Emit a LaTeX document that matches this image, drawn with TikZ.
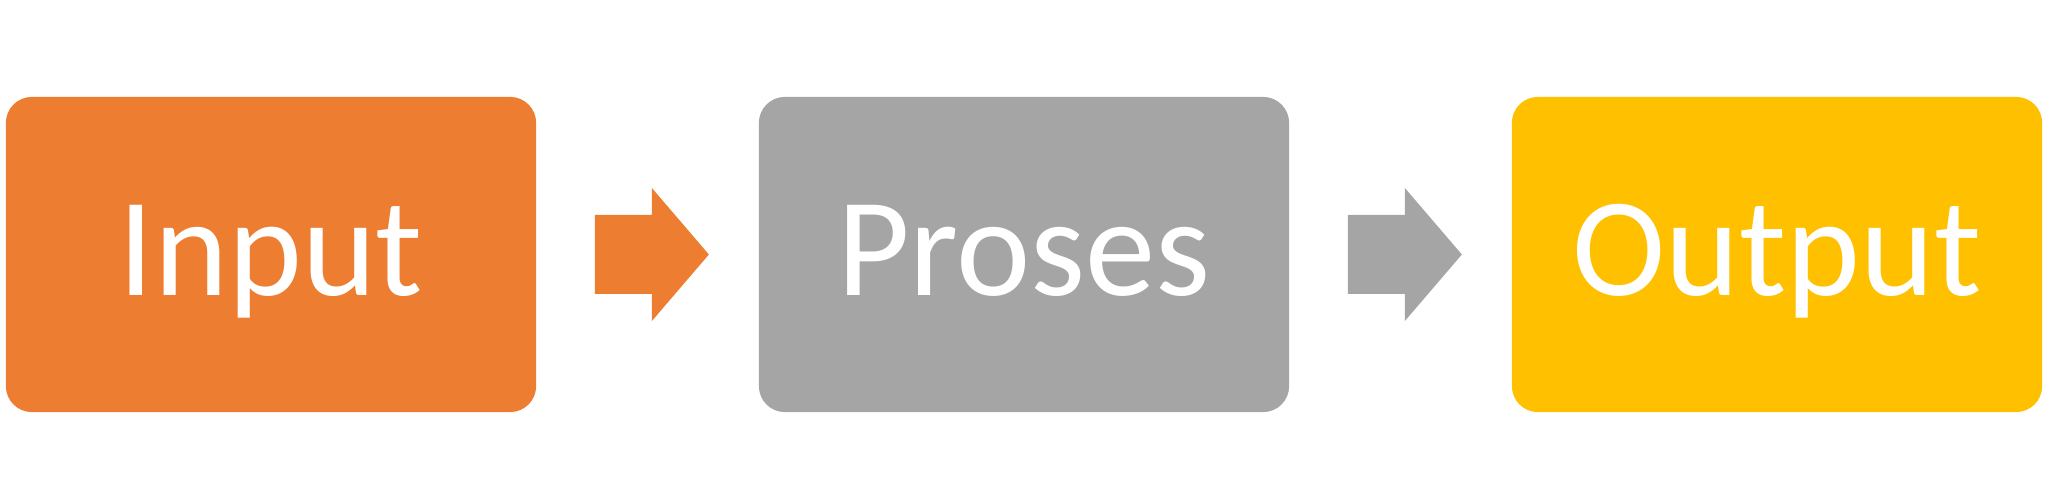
\documentclass[tikz,border=0pt]{standalone}
\usepackage{fontspec}
\setmainfont{Carlito}
\usetikzlibrary{calc}
\definecolor{inorange}{HTML}{ED7D31}
\definecolor{prgray}{HTML}{A5A5A5}
\definecolor{outgold}{HTML}{FFC000}
\newcommand{\boxfont}{\fontsize{40pt}{48pt}\selectfont}
\begin{document}
\begin{tikzpicture}[x=0.01cm, y=-0.01cm,
  blk/.style={rounded corners=7.4pt, minimum width=5.3cm, minimum height=3.15cm, inner sep=0pt, text=white, font=\boxfont, text height=0.9cm, text depth=0.09cm}]
\useasboundingbox (0,0) rectangle (2048,488);
% boxes
\node[blk,fill=inorange] (inp) at (271,254.5) {Input};
\node[blk,fill=prgray] (pros) at (1024,254.5) {Proses};
\node[blk,fill=outgold] (outp) at (1777,254.5) {Output};
% block arrows
\fill[inorange] ($(inp.east)+(58,-39.5)$) -- ($(inp.east)+(115,-39.5)$) -- ($(inp.east)+(115,-66.5)$) -- ($(inp.east)+(172,0)$) -- ($(inp.east)+(115,66.5)$) -- ($(inp.east)+(115,39.5)$) -- ($(inp.east)+(58,39.5)$) -- cycle;
\fill[prgray] ($(pros.east)+(58,-39.5)$) -- ($(pros.east)+(115,-39.5)$) -- ($(pros.east)+(115,-66.5)$) -- ($(pros.east)+(172,0)$) -- ($(pros.east)+(115,66.5)$) -- ($(pros.east)+(115,39.5)$) -- ($(pros.east)+(58,39.5)$) -- cycle;
\end{tikzpicture}
\end{document}
